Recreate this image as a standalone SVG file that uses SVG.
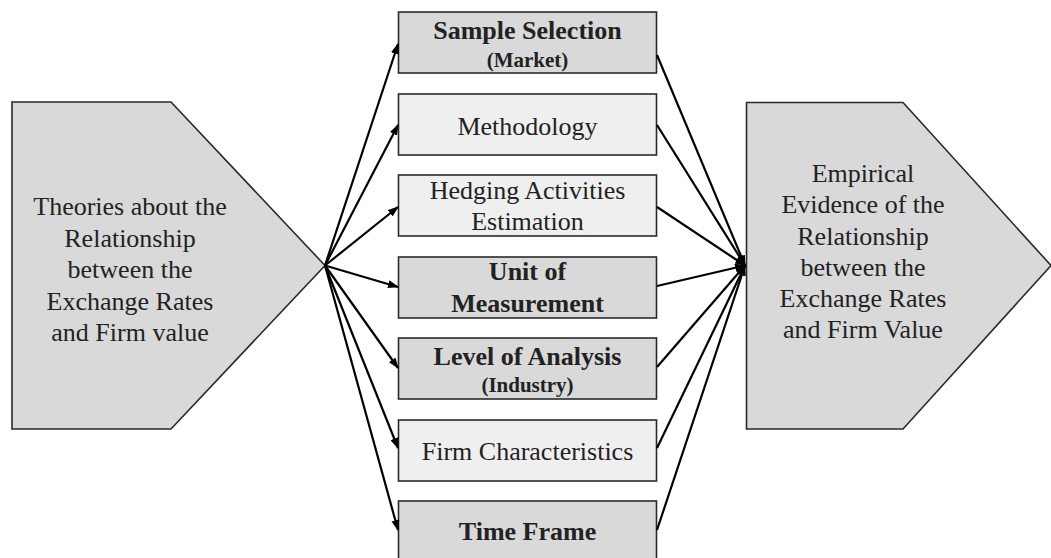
<svg xmlns="http://www.w3.org/2000/svg" width="1051" height="558" viewBox="0 0 1051 558">
  <style>
    .shape { stroke: #2a2a2a; stroke-width: 1.6; }
    .dark { fill: #d9d9d9; }
    .light { fill: #efefef; }
    .txt { font-family: "Liberation Serif", "Times New Roman", serif; font-size: 26px; fill: #222; text-anchor: middle; }
    .b { font-weight: bold; }
    .sm { font-size: 21px; }
    .link { stroke: #000; stroke-width: 2.2; fill: none; marker-end: url(#head); }
  </style>
  <defs>
    <marker id="head" markerUnits="userSpaceOnUse" markerWidth="11" markerHeight="8" refX="10" refY="4" orient="auto">
      <path d="M0,0 L11,4 L0,8 z" fill="#000"/>
    </marker>
  </defs>
  <rect width="1051" height="558" fill="#fff"/>

  <!-- source: theories -->
  <g id="theories">
    <polygon class="shape dark" points="12,102 171,102 325,265.5 171,429 12,429"/>
    <text class="txt" x="130" y="215">Theories about the</text>
    <text class="txt" x="130" y="246.5">Relationship</text>
    <text class="txt" x="130" y="278">between the</text>
    <text class="txt" x="130" y="309.5">Exchange Rates</text>
    <text class="txt" x="130" y="341">and Firm value</text>
  </g>

  <!-- target: empirical evidence -->
  <g id="evidence">
    <polygon class="shape dark" points="746.5,102.5 903,102.5 1051,265.5 903,429 746.5,429"/>
    <text class="txt" x="863" y="182">Empirical</text>
    <text class="txt" x="863" y="213">Evidence of the</text>
    <text class="txt" x="863" y="244.5">Relationship</text>
    <text class="txt" x="863" y="275.5">between the</text>
    <text class="txt" x="863" y="306.5">Exchange Rates</text>
    <text class="txt" x="863" y="337.5">and Firm Value</text>
  </g>

  <!-- intermediate factors -->
  <g id="sample-selection">
    <rect class="shape dark" x="398.5" y="12" width="258" height="61"/>
    <text class="txt b" x="527.5" y="39">Sample Selection</text>
    <text class="txt b sm" x="527.5" y="66.5">(Market)</text>
  </g>
  <g id="methodology">
    <rect class="shape light" x="398.5" y="94" width="258" height="61"/>
    <text class="txt" x="527.5" y="135">Methodology</text>
  </g>
  <g id="hedging">
    <rect class="shape light" x="398.5" y="175" width="258" height="61"/>
    <text class="txt" x="527.5" y="198.5">Hedging Activities</text>
    <text class="txt" x="527.5" y="230">Estimation</text>
  </g>
  <g id="unit-of-measurement">
    <rect class="shape dark" x="398.5" y="257" width="258" height="61"/>
    <text class="txt b" x="527.5" y="280">Unit of</text>
    <text class="txt b" x="527.5" y="311.5">Measurement</text>
  </g>
  <g id="level-of-analysis">
    <rect class="shape dark" x="398.5" y="338" width="258" height="61"/>
    <text class="txt b" x="527.5" y="364.5">Level of Analysis</text>
    <text class="txt b sm" x="527.5" y="391.5">(Industry)</text>
  </g>
  <g id="firm-characteristics">
    <rect class="shape light" x="398.5" y="420" width="258" height="61"/>
    <text class="txt" x="527.5" y="459.5">Firm Characteristics</text>
  </g>
  <g id="time-frame">
    <rect class="shape dark" x="398.5" y="501" width="258" height="61"/>
    <text class="txt b" x="527.5" y="540">Time Frame</text>
  </g>

  <!-- connectors -->
  <g id="connectors">
    <line class="link" x1="325" y1="265.5" x2="398" y2="44"/>
    <line class="link" x1="325" y1="265.5" x2="398" y2="125"/>
    <line class="link" x1="325" y1="265.5" x2="398" y2="207"/>
    <line class="link" x1="325" y1="265.5" x2="398" y2="287"/>
    <line class="link" x1="325" y1="265.5" x2="398" y2="368"/>
    <line class="link" x1="325" y1="265.5" x2="398" y2="448"/>
    <line class="link" x1="325" y1="265.5" x2="398" y2="530"/>

    <line class="link" x1="657" y1="55" x2="745" y2="265.5"/>
    <line class="link" x1="657" y1="125" x2="745" y2="265.5"/>
    <line class="link" x1="657" y1="207" x2="745" y2="265.5"/>
    <line class="link" x1="657" y1="286" x2="745" y2="265.5"/>
    <line class="link" x1="657" y1="367" x2="745" y2="265.5"/>
    <line class="link" x1="657" y1="448" x2="745" y2="265.5"/>
    <line class="link" x1="657" y1="530" x2="745" y2="265.5"/>
  </g>
</svg>
